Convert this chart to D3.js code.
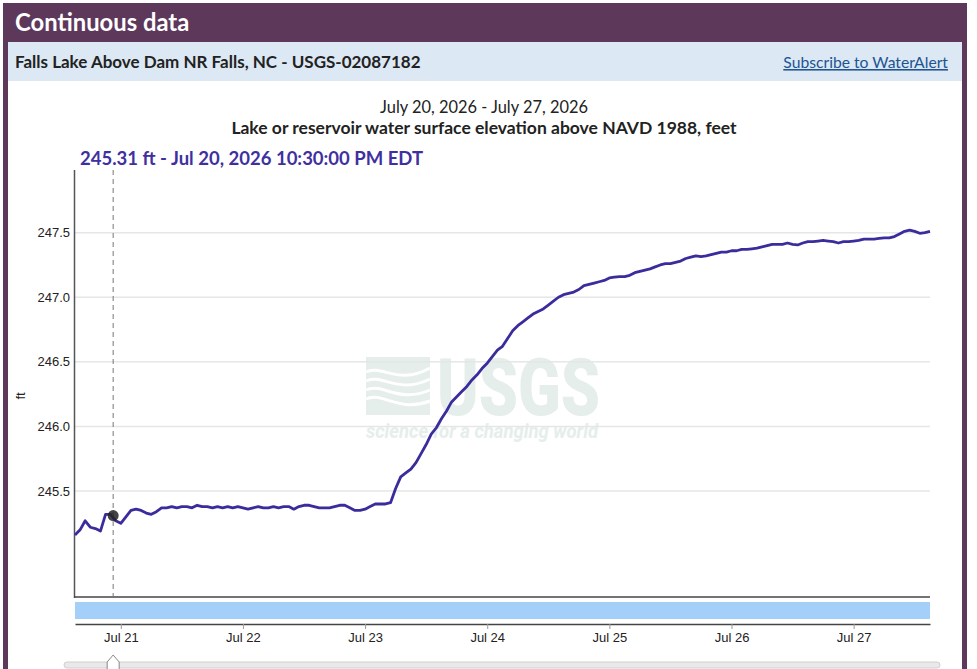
<!DOCTYPE html>
<html>
<head>
<meta charset="utf-8">
<script src="https://cdn.jsdelivr.net/npm/d3@7"></script>
<style>
  body { margin: 0; background: #fff; }
  svg { display: block; }
</style>
</head>
<body>
<div id="chart"></div>
<script>
// Falls Lake water surface elevation, hourly readings (ft)
const jul20 = [245.16, 245.20, 245.27, 245.22, 245.21, 245.19, 245.32, 245.32, 245.27]; // 15:00-23:00
const jul21 = [245.25, 245.30, 245.35, 245.36, 245.35, 245.33, 245.32, 245.34, 245.37, 245.37, 245.38, 245.37,
               245.38, 245.38, 245.37, 245.39, 245.38, 245.38, 245.37, 245.38, 245.37, 245.38, 245.37, 245.38];
const jul22 = [245.37, 245.36, 245.37, 245.38, 245.37, 245.37, 245.38, 245.37, 245.38, 245.38, 245.36, 245.38,
               245.39, 245.39, 245.38, 245.37, 245.37, 245.37, 245.38, 245.39, 245.39, 245.37, 245.35, 245.35];
const jul23 = [245.36, 245.38, 245.40, 245.40, 245.40, 245.41, 245.52, 245.61, 245.64, 245.67, 245.72, 245.79,
               245.86, 245.94, 245.99, 246.06, 246.12, 246.19, 246.23, 246.27, 246.31, 246.36, 246.40, 246.45];
const jul24 = [246.49, 246.54, 246.59, 246.62, 246.68, 246.74, 246.78, 246.81, 246.84, 246.87, 246.89, 246.91,
               246.94, 246.97, 247.00, 247.02, 247.03, 247.04, 247.06, 247.09, 247.10, 247.11, 247.12, 247.13];
const jul25 = [247.15, 247.155, 247.16, 247.16, 247.17, 247.19, 247.20, 247.21, 247.22, 247.235, 247.25, 247.26,
               247.26, 247.27, 247.28, 247.30, 247.31, 247.32, 247.315, 247.32, 247.33, 247.34, 247.35, 247.35];
const jul26 = [247.36, 247.36, 247.37, 247.37, 247.375, 247.38, 247.39, 247.40, 247.41, 247.41, 247.41, 247.42,
               247.41, 247.405, 247.42, 247.43, 247.43, 247.435, 247.44, 247.435, 247.43, 247.42, 247.43, 247.43];
const jul27 = [247.435, 247.44, 247.45, 247.45, 247.45, 247.455, 247.46, 247.46, 247.47, 247.49, 247.51, 247.52,
               247.51, 247.495, 247.50, 247.51]; // 00:00-15:00

const dayArrays = [
  { day: 20, startHour: 15, values: jul20 },
  { day: 21, startHour: 0, values: jul21 },
  { day: 22, startHour: 0, values: jul22 },
  { day: 23, startHour: 0, values: jul23 },
  { day: 24, startHour: 0, values: jul24 },
  { day: 25, startHour: 0, values: jul25 },
  { day: 26, startHour: 0, values: jul26 },
  { day: 27, startHour: 0, values: jul27 }
];

const yTicks = [245.5, 246.0, 246.5, 247.0, 247.5];
const yDomain = [244.68, 247.985];

// cursor reading shown above the plot
const cursorTime = new Date(2026, 6, 20, 22, 30);
const cursorValue = 245.31;

const series = [];
dayArrays.forEach(d => {
  d.values.forEach((v, i) => {
    series.push({ t: new Date(2026, 6, d.day, d.startHour + i), v: v });
  });
});

const width = 977;
const height = 669;
const font = "'Source Sans Pro', Lato, 'Noto Sans', sans-serif";
const axisFont = "'Liberation Sans', Arial, sans-serif";
const purple = '#5d385b';
const lineColor = '#3a2c9c';

const svg = d3.select('#chart')
  .append('svg')
  .attr('width', width)
  .attr('height', height);

// Frame: purple header, borders, light blue site band
svg.append('rect')
  .attr('x', 3).attr('y', 3).attr('width', 964).attr('height', height)
  .attr('fill', purple);
svg.append('rect')
  .attr('x', 8).attr('y', 42).attr('width', 954).attr('height', height)
  .attr('fill', '#fff');
svg.append('rect')
  .attr('x', 8).attr('y', 42).attr('width', 954).attr('height', 39)
  .attr('fill', '#dce8f4');

svg.append('text')
  .attr('x', 15).attr('y', 31)
  .attr('font-family', font).attr('font-weight', 700).attr('font-size', 23.8)
  .attr('fill', '#fff')
  .text('Continuous data');

svg.append('text')
  .attr('x', 15).attr('y', 68)
  .attr('font-family', font).attr('font-weight', 700).attr('font-size', 17)
  .attr('fill', '#222')
  .text('Falls Lake Above Dam NR Falls, NC - USGS-02087182');

svg.append('text')
  .attr('x', 948).attr('y', 68)
  .attr('text-anchor', 'end')
  .attr('font-family', font).attr('font-size', 15.7)
  .attr('fill', '#205493')
  .attr('text-decoration', 'underline')
  .text('Subscribe to WaterAlert');

// Titles
svg.append('text')
  .attr('x', 484).attr('y', 113)
  .attr('text-anchor', 'middle')
  .attr('font-family', font).attr('font-size', 16.4)
  .attr('fill', '#222')
  .text('July 20, 2026 - July 27, 2026');

svg.append('text')
  .attr('x', 484).attr('y', 134)
  .attr('text-anchor', 'middle')
  .attr('font-family', font).attr('font-weight', 700).attr('font-size', 17.5)
  .attr('fill', '#222')
  .text('Lake or reservoir water surface elevation above NAVD 1988, feet');

// Scales
const x = d3.scaleTime()
  .domain(d3.extent(series, d => d.t))
  .range([75, 930]);

const y = d3.scaleLinear()
  .domain(yDomain)
  .range([597, 170]);

// Watermark (drawn under gridlines)
const wm = svg.append('g').attr('fill', '#e5eeeb');
wm.append('rect').attr('x', 366).attr('y', 357).attr('width', 64).attr('height', 58);
const waves = wm.append('g').attr('fill', 'none').attr('stroke', '#fff').attr('stroke-width', 3);
[372, 381, 390, 399].forEach((yy, i) => {
  waves.append('path')
    .attr('d', `M366,${yy} C382,${yy - 8} 398,${yy + 14} 430,${yy - 4 + i * 2}`);
});
wm.append('text')
  .attr('x', 437).attr('y', 415)
  .attr('font-family', "Roboto, 'Liberation Sans', sans-serif")
  .attr('font-weight', 900).attr('font-size', 80)
  .attr('textLength', 163).attr('lengthAdjust', 'spacingAndGlyphs')
  .text('USGS');
wm.append('text')
  .attr('x', 366).attr('y', 438)
  .attr('font-family', "Roboto, 'Liberation Sans', sans-serif")
  .attr('font-style', 'italic').attr('font-weight', 700).attr('font-size', 20)
  .attr('textLength', 232).attr('lengthAdjust', 'spacingAndGlyphs')
  .text('science for a changing world');

// Gridlines
svg.append('g')
  .selectAll('line')
  .data(yTicks)
  .enter().append('line')
  .attr('x1', 75).attr('x2', 930)
  .attr('y1', d => y(d)).attr('y2', d => y(d))
  .attr('stroke', '#e6e6e6')
  .attr('stroke-width', 1.5);

// Y tick labels
svg.append('g')
  .selectAll('text')
  .data(yTicks)
  .enter().append('text')
  .attr('x', 70)
  .attr('y', d => y(d))
  .attr('dy', '0.35em')
  .attr('text-anchor', 'end')
  .attr('font-family', axisFont).attr('font-size', 13)
  .attr('fill', '#222')
  .text(d => d3.format('.1f')(d));

svg.append('text')
  .attr('transform', 'translate(25,396) rotate(-90)')
  .attr('text-anchor', 'middle')
  .attr('font-family', axisFont).attr('font-size', 13)
  .attr('fill', '#222')
  .text('ft');

// Axes lines
svg.append('line')
  .attr('x1', 74.5).attr('x2', 74.5).attr('y1', 170).attr('y2', 598)
  .attr('stroke', '#555').attr('stroke-width', 1.5);
svg.append('line')
  .attr('x1', 74).attr('x2', 930).attr('y1', 597).attr('y2', 597)
  .attr('stroke', '#444').attr('stroke-width', 1.5);

// Data line
const line = d3.line()
  .x(d => x(d.t))
  .y(d => y(d.v));

svg.append('path')
  .datum(series)
  .attr('fill', 'none')
  .attr('stroke', lineColor)
  .attr('stroke-width', 2.8)
  .attr('stroke-linejoin', 'round')
  .attr('d', line);

// Cursor
svg.append('line')
  .attr('x1', x(cursorTime)).attr('x2', x(cursorTime))
  .attr('y1', 170).attr('y2', 597)
  .attr('stroke', '#777')
  .attr('stroke-dasharray', '5,4')
  .attr('stroke-width', 1);

svg.append('circle')
  .attr('cx', x(cursorTime)).attr('cy', y(cursorValue))
  .attr('r', 5.5)
  .attr('fill', '#222')
  .attr('fill-opacity', 0.85);

svg.append('text')
  .attr('x', 80).attr('y', 165)
  .attr('font-family', font).attr('font-weight', 700).attr('font-size', 18.5)
  .attr('fill', '#3f30a0')
  .text(`${cursorValue.toFixed(2)} ft - ${d3.timeFormat('%b %d, %Y %I:%M:%S %p')(cursorTime)} EDT`);

// Brush strip
svg.append('rect')
  .attr('x', 75).attr('y', 602).attr('width', 855).attr('height', 17)
  .attr('fill', '#a3cff9');

const xAxis = d3.axisBottom(x)
  .ticks(d3.timeDay.every(1))
  .tickFormat(d3.timeFormat('%b %d'))
  .tickSize(5)
  .tickSizeOuter(0);

const gx = svg.append('g')
  .attr('transform', 'translate(0,624)')
  .call(xAxis);
gx.select('.domain').attr('stroke', '#444').attr('stroke-width', 1.5);
gx.selectAll('.tick line').attr('stroke', '#999');
gx.selectAll('.tick text')
  .attr('font-family', axisFont).attr('font-size', 13)
  .attr('fill', '#222')
  .attr('y', 9);

// Slider
svg.append('rect')
  .attr('x', 64).attr('y', 662).attr('width', 876).attr('height', 6).attr('rx', 3)
  .attr('fill', '#e9e9e9').attr('stroke', '#cfcfcf');
const hx = x(cursorTime);
svg.append('path')
  .attr('d', `M${hx - 6},662 L${hx},655 L${hx + 6},662 L${hx + 6},672 L${hx - 6},672 Z`)
  .attr('fill', '#fff').attr('stroke', '#888').attr('stroke-width', 1);
</script>
</body>
</html>
